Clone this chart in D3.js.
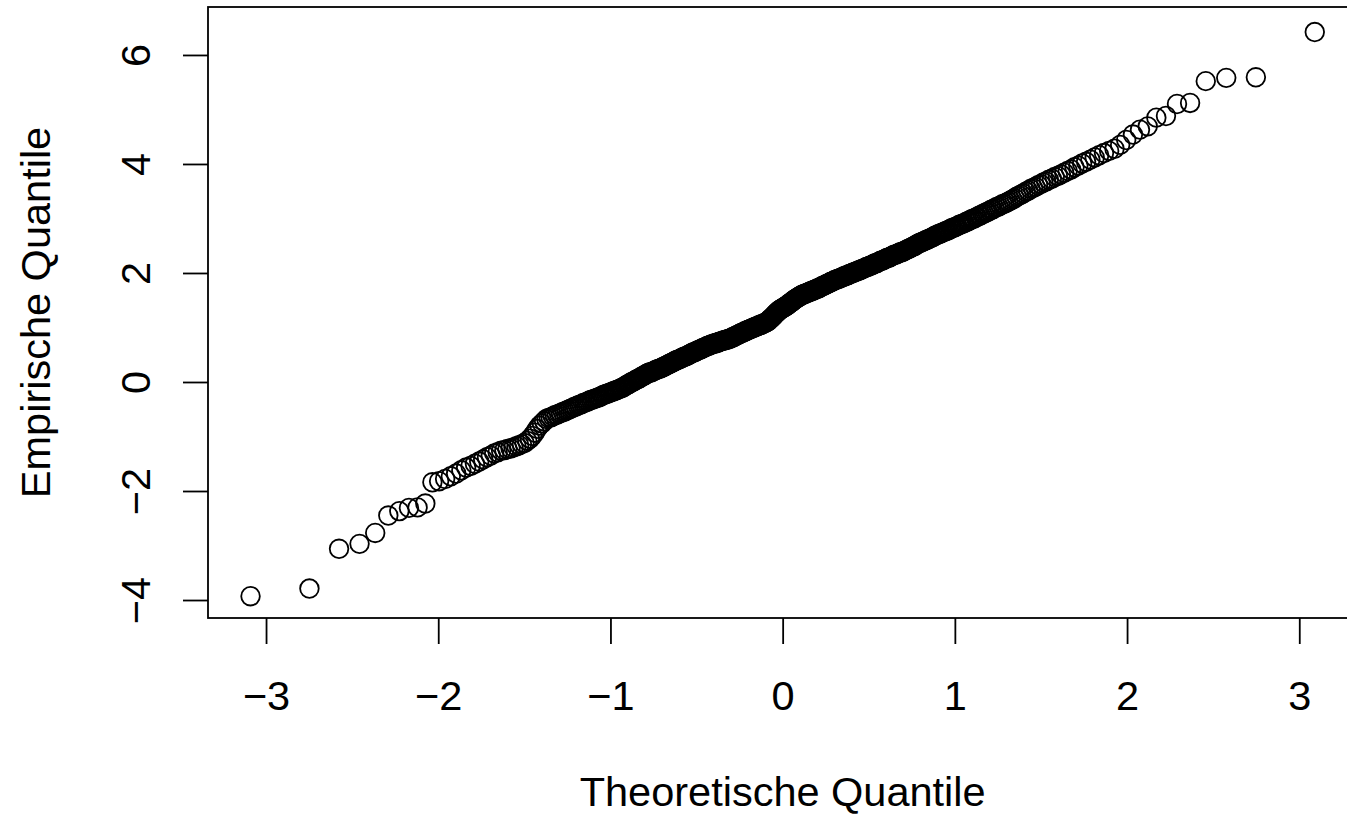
<!DOCTYPE html>
<html>
<head>
<meta charset="utf-8">
<script src="https://cdn.jsdelivr.net/npm/d3@7"></script>
<style>
  body { margin: 0; background: #fff; }
  svg text { font-family: "Liberation Sans", Arial, sans-serif; fill: #000; }
</style>
</head>
<body>
<div class="chart"></div>
<script>
// theoretical quantiles (x) of the 500 points
const theoretical = [
  -3.090,-2.748,-2.576,-2.457,-2.366,-2.290,-2.226,-2.170,-2.120,-2.075,
  -2.034,-1.995,-1.960,-1.927,-1.896,-1.866,-1.838,-1.812,-1.787,-1.762,
  -1.739,-1.717,-1.695,-1.675,-1.655,-1.635,-1.616,-1.598,-1.580,-1.563,
  -1.546,-1.530,-1.514,-1.499,-1.483,-1.468,-1.454,-1.440,-1.426,-1.412,
  -1.398,-1.385,-1.372,-1.359,-1.347,-1.335,-1.323,-1.311,-1.299,-1.287,
  -1.276,-1.265,-1.254,-1.243,-1.232,-1.221,-1.211,-1.200,-1.190,-1.180,
  -1.170,-1.160,-1.150,-1.141,-1.131,-1.122,-1.112,-1.103,-1.094,-1.085,
  -1.076,-1.067,-1.058,-1.049,-1.041,-1.032,-1.024,-1.015,-1.007,-0.999,
  -0.990,-0.982,-0.974,-0.966,-0.958,-0.950,-0.942,-0.935,-0.927,-0.919,
  -0.912,-0.904,-0.896,-0.889,-0.882,-0.874,-0.867,-0.860,-0.852,-0.845,
  -0.838,-0.831,-0.824,-0.817,-0.810,-0.803,-0.796,-0.789,-0.782,-0.776,
  -0.769,-0.762,-0.755,-0.749,-0.742,-0.736,-0.729,-0.722,-0.716,-0.710,
  -0.703,-0.697,-0.690,-0.684,-0.678,-0.671,-0.665,-0.659,-0.653,-0.646,
  -0.640,-0.634,-0.628,-0.622,-0.616,-0.610,-0.604,-0.598,-0.592,-0.586,
  -0.580,-0.574,-0.568,-0.562,-0.556,-0.550,-0.545,-0.539,-0.533,-0.527,
  -0.522,-0.516,-0.510,-0.504,-0.499,-0.493,-0.487,-0.482,-0.476,-0.470,
  -0.465,-0.459,-0.454,-0.448,-0.443,-0.437,-0.432,-0.426,-0.421,-0.415,
  -0.410,-0.405,-0.399,-0.394,-0.388,-0.383,-0.378,-0.372,-0.367,-0.362,
  -0.356,-0.351,-0.345,-0.340,-0.335,-0.330,-0.324,-0.319,-0.314,-0.308,
  -0.303,-0.298,-0.292,-0.287,-0.282,-0.277,-0.272,-0.266,-0.261,-0.256,
  -0.251,-0.246,-0.240,-0.235,-0.230,-0.225,-0.220,-0.215,-0.210,-0.204,
  -0.199,-0.194,-0.189,-0.184,-0.179,-0.174,-0.169,-0.164,-0.159,-0.154,
  -0.149,-0.144,-0.138,-0.133,-0.128,-0.123,-0.118,-0.113,-0.108,-0.103,
  -0.098,-0.093,-0.088,-0.083,-0.078,-0.073,-0.068,-0.063,-0.058,-0.053,
  -0.048,-0.043,-0.038,-0.033,-0.028,-0.023,-0.018,-0.013,-0.008,-0.003,
  0.003,0.008,0.013,0.018,0.023,0.028,0.033,0.038,0.043,0.048,
  0.053,0.058,0.063,0.068,0.073,0.078,0.083,0.088,0.093,0.098,
  0.103,0.108,0.113,0.118,0.123,0.128,0.133,0.138,0.144,0.149,
  0.154,0.159,0.164,0.169,0.174,0.179,0.184,0.189,0.194,0.199,
  0.204,0.210,0.215,0.220,0.225,0.230,0.235,0.240,0.246,0.251,
  0.256,0.261,0.266,0.272,0.277,0.282,0.287,0.292,0.298,0.303,
  0.308,0.314,0.319,0.324,0.330,0.335,0.340,0.345,0.351,0.356,
  0.362,0.367,0.372,0.378,0.383,0.388,0.394,0.399,0.405,0.410,
  0.415,0.421,0.426,0.432,0.437,0.443,0.448,0.454,0.459,0.465,
  0.470,0.476,0.482,0.487,0.493,0.499,0.504,0.510,0.516,0.522,
  0.527,0.533,0.539,0.545,0.550,0.556,0.562,0.568,0.574,0.580,
  0.586,0.592,0.598,0.604,0.610,0.616,0.622,0.628,0.634,0.640,
  0.646,0.653,0.659,0.665,0.671,0.678,0.684,0.690,0.697,0.703,
  0.710,0.716,0.722,0.729,0.736,0.742,0.749,0.755,0.762,0.769,
  0.776,0.782,0.789,0.796,0.803,0.810,0.817,0.824,0.831,0.838,
  0.845,0.852,0.860,0.867,0.874,0.882,0.889,0.896,0.904,0.912,
  0.919,0.927,0.935,0.942,0.950,0.958,0.966,0.974,0.982,0.990,
  0.999,1.007,1.015,1.024,1.032,1.041,1.049,1.058,1.067,1.076,
  1.085,1.094,1.103,1.112,1.122,1.131,1.141,1.150,1.160,1.170,
  1.180,1.190,1.200,1.211,1.221,1.232,1.243,1.254,1.265,1.276,
  1.287,1.299,1.311,1.323,1.335,1.347,1.359,1.372,1.385,1.398,
  1.412,1.426,1.440,1.454,1.468,1.483,1.499,1.514,1.530,1.546,
  1.563,1.580,1.598,1.616,1.635,1.655,1.675,1.695,1.717,1.739,
  1.762,1.787,1.812,1.838,1.866,1.896,1.927,1.960,1.995,2.034,
  2.075,2.120,2.170,2.226,2.290,2.366,2.457,2.576,2.748,3.090
];

// empirical quantiles (y), same order
const empirical = [
  -3.93,-3.79,-3.06,-2.97,-2.77,-2.45,-2.37,-2.31,-2.30,-2.23,
  -1.84,-1.82,-1.78,-1.73,-1.68,-1.62,-1.57,-1.54,-1.50,-1.46,
  -1.42,-1.38,-1.35,-1.31,-1.29,-1.26,-1.25,-1.23,-1.22,-1.20,
  -1.18,-1.16,-1.14,-1.12,-1.08,-1.04,-0.99,-0.93,-0.86,-0.80,
  -0.76,-0.72,-0.68,-0.66,-0.65,-0.63,-0.61,-0.60,-0.58,-0.57,
  -0.55,-0.54,-0.52,-0.51,-0.49,-0.48,-0.46,-0.45,-0.43,-0.42,
  -0.41,-0.39,-0.38,-0.37,-0.36,-0.34,-0.33,-0.32,-0.31,-0.30,
  -0.29,-0.28,-0.27,-0.25,-0.24,-0.23,-0.22,-0.21,-0.20,-0.19,
  -0.18,-0.17,-0.16,-0.15,-0.14,-0.13,-0.12,-0.11,-0.10,-0.08,
  -0.07,-0.05,-0.04,-0.03,-0.01,0.00,0.01,0.02,0.04,0.05,
  0.06,0.07,0.09,0.10,0.11,0.12,0.14,0.15,0.16,0.17,
  0.18,0.18,0.19,0.20,0.21,0.22,0.23,0.24,0.24,0.25,
  0.26,0.27,0.28,0.29,0.30,0.31,0.32,0.33,0.34,0.35,
  0.36,0.37,0.38,0.39,0.40,0.41,0.41,0.42,0.43,0.44,
  0.45,0.46,0.47,0.47,0.48,0.49,0.50,0.51,0.52,0.53,
  0.54,0.54,0.55,0.56,0.57,0.58,0.59,0.59,0.60,0.61,
  0.62,0.63,0.63,0.64,0.65,0.66,0.66,0.67,0.68,0.69,
  0.69,0.70,0.70,0.71,0.71,0.72,0.72,0.73,0.74,0.74,
  0.75,0.75,0.76,0.76,0.77,0.77,0.78,0.78,0.79,0.79,
  0.80,0.81,0.82,0.82,0.83,0.84,0.85,0.86,0.86,0.87,
  0.88,0.89,0.90,0.90,0.91,0.92,0.93,0.93,0.94,0.95,
  0.96,0.96,0.97,0.98,0.98,0.99,1.00,1.00,1.01,1.02,
  1.02,1.03,1.04,1.04,1.05,1.06,1.06,1.07,1.08,1.08,
  1.09,1.10,1.11,1.12,1.14,1.15,1.17,1.18,1.20,1.21,
  1.23,1.25,1.26,1.28,1.29,1.31,1.32,1.33,1.34,1.35,
  1.36,1.37,1.38,1.39,1.40,1.41,1.42,1.44,1.45,1.46,
  1.47,1.48,1.50,1.51,1.52,1.53,1.54,1.55,1.56,1.57,
  1.58,1.59,1.60,1.60,1.61,1.62,1.62,1.63,1.64,1.64,
  1.65,1.66,1.66,1.67,1.68,1.68,1.69,1.70,1.70,1.71,
  1.72,1.72,1.73,1.74,1.75,1.76,1.76,1.77,1.78,1.79,
  1.80,1.80,1.81,1.82,1.83,1.84,1.84,1.85,1.86,1.87,
  1.87,1.88,1.89,1.89,1.90,1.91,1.91,1.92,1.93,1.94,
  1.94,1.95,1.96,1.96,1.97,1.98,1.98,1.99,2.00,2.01,
  2.01,2.02,2.03,2.03,2.04,2.05,2.05,2.06,2.07,2.08,
  2.08,2.09,2.10,2.11,2.11,2.12,2.13,2.14,2.14,2.15,
  2.16,2.17,2.18,2.18,2.19,2.20,2.21,2.22,2.23,2.23,
  2.24,2.25,2.26,2.27,2.28,2.28,2.29,2.30,2.31,2.32,
  2.33,2.34,2.34,2.35,2.36,2.37,2.38,2.38,2.39,2.40,
  2.41,2.42,2.43,2.44,2.45,2.46,2.47,2.48,2.49,2.50,
  2.52,2.53,2.54,2.55,2.56,2.57,2.58,2.59,2.60,2.61,
  2.62,2.63,2.64,2.65,2.66,2.68,2.69,2.70,2.71,2.72,
  2.73,2.74,2.75,2.76,2.77,2.78,2.79,2.81,2.82,2.83,
  2.84,2.85,2.86,2.88,2.89,2.90,2.91,2.92,2.94,2.95,
  2.96,2.98,2.99,3.00,3.02,3.03,3.05,3.06,3.08,3.09,
  3.11,3.12,3.14,3.16,3.17,3.19,3.21,3.22,3.24,3.26,
  3.27,3.29,3.31,3.33,3.35,3.37,3.40,3.42,3.44,3.46,
  3.49,3.51,3.54,3.56,3.58,3.61,3.63,3.66,3.68,3.71,
  3.73,3.76,3.78,3.81,3.84,3.87,3.90,3.94,3.97,4.01,
  4.04,4.08,4.12,4.16,4.20,4.24,4.28,4.35,4.44,4.54,
  4.63,4.69,4.85,4.88,5.10,5.12,5.52,5.58,5.59,6.42
];

const xTicks = [-3, -2, -1, 0, 1, 2, 3];
const yTicks = [-4, -2, 0, 2, 4, 6];
// axis limits of the plot box (R usr)
const xLim = [-3.337, 3.337];
const yLim = [-4.33, 6.88];
const xTitle = "Theoretische Quantile";
const yTitle = "Empirische Quantile";

const w = 1347, h = 814;
const box = { left: 208, top: 7, width: 1149.3, height: 611 };
const fontSize = 41.5;

const points = theoretical.map((t, i) => ({ t: t, e: empirical[i] }));

// R style minus sign
const fmt = d => (d < 0 ? "\u2212" + Math.abs(d) : String(d));

const svg = d3.select(".chart").append("svg")
  .attr("width", w)
  .attr("height", h)
  .style("display", "block");

const x = d3.scaleLinear().domain(xLim).range([box.left, box.left + box.width]);
const y = d3.scaleLinear().domain(yLim).range([box.top + box.height, box.top]);

// points: open circles
svg.append("g")
  .selectAll("circle")
  .data(points)
  .enter()
  .append("circle")
  .attr("cx", d => x(d.t))
  .attr("cy", d => y(d.e))
  .attr("r", 9.3)
  .attr("fill", "none")
  .attr("stroke", "#000")
  .attr("stroke-width", 1.8);

// x axis
const gx = svg.append("g")
  .attr("transform", `translate(0,${box.top + box.height})`)
  .call(d3.axisBottom(x).tickValues(xTicks).tickSize(26).tickFormat(fmt));
gx.select(".domain").remove();
gx.selectAll("line").attr("stroke", "#000").attr("stroke-width", 1.8);
gx.selectAll("text")
  .attr("y", 92)
  .attr("dy", null)
  .attr("font-size", fontSize)
  .attr("font-family", '"Liberation Sans", Arial, sans-serif');

// y axis, labels turned like R's las = 0
const gy = svg.append("g")
  .attr("transform", `translate(${box.left},0)`)
  .call(d3.axisLeft(y).tickValues(yTicks).tickSize(25).tickFormat(fmt));
gy.select(".domain").remove();
gy.selectAll("line").attr("stroke", "#000").attr("stroke-width", 1.8);
gy.selectAll("text")
  .attr("x", 0)
  .attr("y", 0)
  .attr("dy", null)
  .attr("text-anchor", "middle")
  .attr("transform", "translate(-58,0) rotate(-90)")
  .attr("font-size", fontSize)
  .attr("font-family", '"Liberation Sans", Arial, sans-serif');

// plot box
svg.append("rect")
  .attr("x", box.left)
  .attr("y", box.top)
  .attr("width", box.width)
  .attr("height", box.height)
  .attr("fill", "none")
  .attr("stroke", "#000")
  .attr("stroke-width", 1.8);

// axis titles
svg.append("text")
  .attr("x", box.left + box.width / 2)
  .attr("y", 806)
  .attr("text-anchor", "middle")
  .attr("font-size", fontSize)
  .text(xTitle);

svg.append("text")
  .attr("transform", `translate(50,${box.top + box.height / 2}) rotate(-90)`)
  .attr("text-anchor", "middle")
  .attr("font-size", fontSize)
  .text(yTitle);
</script>
</body>
</html>
